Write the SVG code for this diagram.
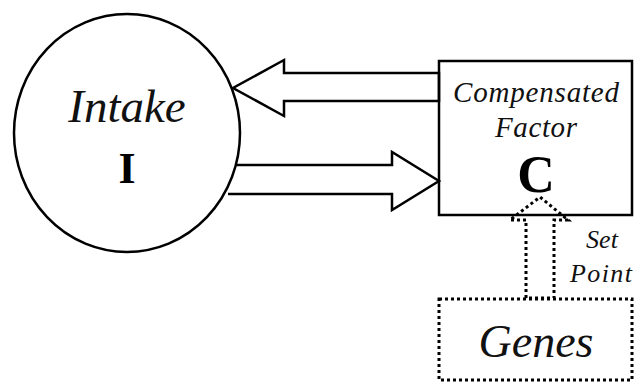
<svg xmlns="http://www.w3.org/2000/svg" width="636" height="383" viewBox="0 0 636 383">
<style>
.s{fill:none;stroke:#000;stroke-width:2.5;stroke-linejoin:miter}
.d{fill:none;stroke:#000;stroke-width:3;stroke-dasharray:3 3}
</style>
<rect width="636" height="383" fill="#fff"/>
<g id="connectors">
<polygon class="s" points="439,73 284,73 284,60 233,88 284,116 284,101 439,101"/>
<polyline class="s" points="236,165 392,165 392,152 439,181 392,210 392,194 228,194"/>
<polygon class="d" points="526,298 526,220 510,220 540,197 568,220 554,220 554,298"/>
</g>
<g id="intake">
<ellipse class="s" cx="127" cy="133" rx="113" ry="119"/>
<text x="127" y="122" font-size="47" text-anchor="middle" font-family="Liberation Serif, serif" font-style="italic" fill="#111">Intake</text>
<text x="127" y="183" font-size="44" text-anchor="middle" font-family="Liberation Serif, serif" font-weight="bold">I</text>
</g>
<g id="compensated">
<rect class="s" x="439" y="61" width="193" height="154"/>
<text x="536" y="102" font-size="29" text-anchor="middle" textLength="166" lengthAdjust="spacing" font-family="Liberation Serif, serif" font-style="italic" fill="#111">Compensated</text>
<text x="536" y="137" font-size="29" text-anchor="middle" textLength="82" lengthAdjust="spacing" font-family="Liberation Serif, serif" font-style="italic" fill="#111">Factor</text>
<text x="536" y="192" font-size="52" text-anchor="middle" font-family="Liberation Serif, serif" font-weight="bold">C</text>
</g>
<g id="genes">
<rect class="d" x="439" y="299" width="193" height="81"/>
<text x="536" y="357" font-size="46" text-anchor="middle" font-family="Liberation Serif, serif" font-style="italic" fill="#111">Genes</text>
</g>
<g id="setpoint">
<text x="602" y="248" font-size="26" text-anchor="middle" font-family="Liberation Serif, serif" font-style="italic" fill="#111">Set</text>
<text x="601" y="282" font-size="26" text-anchor="middle" textLength="62" lengthAdjust="spacing" font-family="Liberation Serif, serif" font-style="italic" fill="#111">Point</text>
</g>
</svg>
